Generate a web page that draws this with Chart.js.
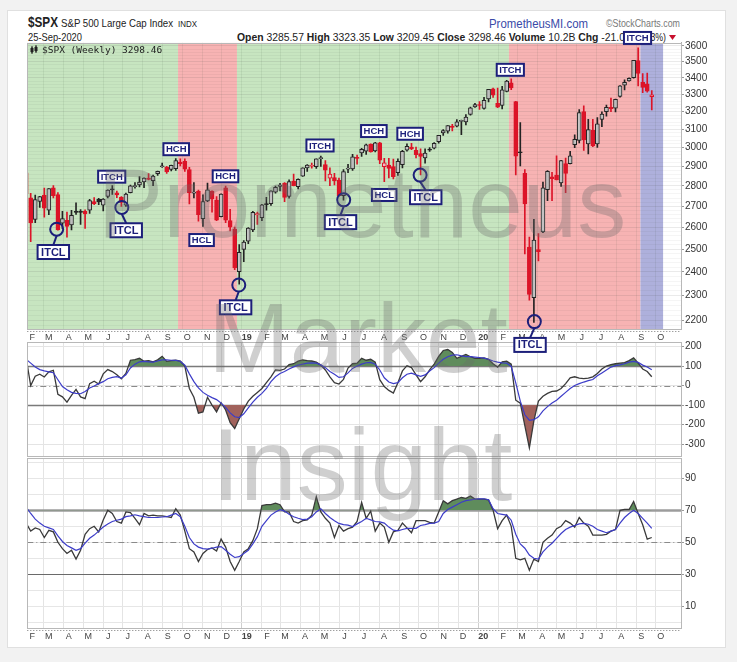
<!DOCTYPE html>
<html lang="en">
<head>
<meta charset="UTF-8">
<title>$SPX Weekly | Prometheus Market Insight</title>
<script src="https://cdn.jsdelivr.net/npm/chart.js"></script>
<style>
  body { margin: 0; background: #f2f2f2; font-family: 'Liberation Sans', Arial, sans-serif; }
  .page { position: relative; width: 737px; height: 662px; overflow: hidden; }
  .card { position: absolute; left: 7px; top: 10px; width: 719px; height: 638px; background: #fff; border: 1px solid #e0e0e0; box-sizing: border-box; }
  .layer { position: absolute; left: 0; }
  #head { top: 0; z-index: 1; }
  #rsiChart { top: 445px; z-index: 2; }
  #cciChart { top: 330px; z-index: 3; }
  #priceChart { top: 30px; z-index: 4; }
  #overlay { top: 0; z-index: 5; pointer-events: none; }
</style>
</head>
<body>
<div class="page">
  <div class="card"></div>

  <svg id="head" class="layer" width="737" height="60">
    <g font-family="'Liberation Sans Narrow','Liberation Sans',Arial,sans-serif" fill="#222">
      <text x="28" y="26.5" font-size="15" font-weight="bold" textLength="30" lengthAdjust="spacingAndGlyphs">$SPX</text>
      <text x="61" y="26.5" font-size="11.5" textLength="112" lengthAdjust="spacingAndGlyphs">S&amp;P 500 Large Cap Index</text>
      <text x="178" y="26.5" font-size="9.5" textLength="19" lengthAdjust="spacingAndGlyphs">INDX</text>
      <text x="28" y="41" font-size="11" textLength="54" lengthAdjust="spacingAndGlyphs">25-Sep-2020</text>
      <text x="237" y="41" font-size="11" textLength="388" lengthAdjust="spacingAndGlyphs"><tspan font-weight="bold">Open</tspan> 3285.57 <tspan font-weight="bold">High</tspan> 3323.35 <tspan font-weight="bold">Low</tspan> 3209.45 <tspan font-weight="bold">Close</tspan> 3298.46 <tspan font-weight="bold">Volume</tspan> 10.2B <tspan font-weight="bold">Chg</tspan> -21.0</text>
      <text x="625" y="41" font-size="11" textLength="41" lengthAdjust="spacingAndGlyphs">1 (-0.63%)</text>
      <text x="489" y="27.5" font-size="13" fill="#3a4aa8" textLength="99" lengthAdjust="spacingAndGlyphs">PrometheusMI.com</text>
      <text x="606" y="27" font-size="10.5" fill="#777" textLength="74" lengthAdjust="spacingAndGlyphs">©StockCharts.com</text>
    </g>
    <path d="M669 35 L676 35 L672.5 40 Z" fill="#c8102e"/>
  </svg>

  <canvas id="rsiChart" class="layer" width="737" height="205"></canvas>
  <canvas id="cciChart" class="layer" width="737" height="140"></canvas>
  <canvas id="priceChart" class="layer" width="737" height="330"></canvas>

  <svg id="overlay" class="layer" width="737" height="662">
    <g font-family="'Liberation Sans',Arial,sans-serif" fill="rgba(105,105,105,0.32)" text-anchor="middle">
      <text x="362" y="237" font-size="98">Prometheus</text>
      <text x="358" y="372" font-size="98">Market</text>
      <text x="362" y="500" font-size="102">Insight</text>
    </g>
    <path d="M32 46 v8 M31 48 h2 v4 h-2 z M36 45 v8 M35 47 h2 v4 h-2 z" stroke="#222" stroke-width="1" fill="#222"/>
    <text x="42" y="52.5" font-family="'DejaVu Sans Mono',monospace" font-size="9.5" fill="#222">$SPX (Weekly) 3298.46</text>
  </svg>
</div>

<script>
  // weekly candles, week 0 = week ending Fri 2-Feb-2018
  const firstWeek = '2018-02-02';
  const priorClose = 2873;

  const opens = [
    2867, 2741, 2637, 2723, 2754, 2681, 2790, 2757, 2619, 2633,
    2611, 2670, 2675, 2675, 2681, 2723, 2735, 2705, 2748, 2781,
    2766, 2743, 2705, 2766, 2797, 2805, 2821, 2840, 2827, 2862,
    2898, 2897, 2884, 2888, 2922, 2926, 2883, 2764, 2774, 2640,
    2726, 2774, 2730, 2650, 2791, 2631, 2591, 2401, 2499, 2536,
    2588, 2658, 2645, 2712, 2712, 2769, 2798, 2814, 2748, 2825,
    2796, 2849, 2892, 2901, 2899, 2941, 2909, 2840, 2842, 2830,
    2752, 2886, 2887, 2945, 2971, 2980, 3018, 2982, 3025, 2898,
    2907, 2899, 2867, 2909, 2986, 3002, 2985, 2967, 2944, 2990,
    2996, 3031, 3079, 3089, 3118, 3117, 3144, 3141, 3184, 3227,
    3240, 3218, 3273, 3333, 3247, 3236, 3318, 3369, 3258, 2974,
    2864, 2509, 2291, 2498, 2578, 2782, 2846, 2855, 2815, 2915,
    2914, 3016, 3039, 3200, 3019, 3094, 3019, 3155, 3200, 3224,
    3220, 3288, 3355, 3381, 3401, 3507, 3372, 3364, 3286
  ];
  const highs = [
    2873, 2763, 2754, 2748, 2789, 2787, 2802, 2767, 2675, 2672,
    2680, 2717, 2684, 2683, 2733, 2742, 2739, 2737, 2780, 2802,
    2775, 2747, 2764, 2805, 2817, 2848, 2841, 2863, 2855, 2876,
    2917, 2900, 2907, 2941, 2940, 2940, 2895, 2817, 2779, 2756,
    2815, 2776, 2747, 2761, 2800, 2685, 2601, 2520, 2538, 2598,
    2675, 2672, 2709, 2744, 2776, 2799, 2813, 2817, 2831, 2860,
    2836, 2893, 2910, 2918, 2940, 2954, 2931, 2892, 2864, 2840,
    2884, 2911, 2964, 2959, 2996, 3018, 3020, 3028, 3028, 2943,
    2943, 2939, 2940, 2985, 3020, 3022, 3002, 2993, 2993, 3000,
    3027, 3067, 3098, 3120, 3128, 3154, 3151, 3183, 3226, 3248,
    3258, 3283, 3330, 3338, 3338, 3348, 3385, 3394, 3260, 3137,
    2883, 2554, 2637, 2571, 2819, 2879, 2869, 2955, 2932, 2944,
    2980, 3069, 3212, 3233, 3156, 3155, 3166, 3198, 3238, 3279,
    3272, 3353, 3388, 3400, 3509, 3588, 3426, 3429, 3323
  ];
  const lows = [
    2760, 2533, 2622, 2694, 2647, 2659, 2741, 2586, 2593, 2554,
    2587, 2660, 2613, 2595, 2665, 2707, 2707, 2677, 2741, 2758,
    2742, 2699, 2699, 2765, 2789, 2795, 2792, 2830, 2802, 2853,
    2895, 2864, 2876, 2879, 2903, 2874, 2711, 2740, 2628, 2604,
    2722, 2671, 2631, 2649, 2622, 2583, 2409, 2347, 2444, 2525,
    2580, 2613, 2631, 2681, 2704, 2764, 2775, 2722, 2739, 2800,
    2785, 2848, 2874, 2891, 2889, 2900, 2825, 2801, 2805, 2751,
    2729, 2868, 2879, 2912, 2952, 2963, 2975, 2976, 2914, 2822,
    2841, 2835, 2853, 2892, 2980, 2989, 2945, 2856, 2917, 2979,
    2993, 3023, 3066, 3078, 3091, 3113, 3070, 3124, 3180, 3224,
    3212, 3214, 3256, 3282, 3222, 3215, 3315, 3328, 2856, 2902,
    2479, 2281, 2192, 2447, 2575, 2727, 2727, 2830, 2798, 2767,
    2913, 2999, 3025, 2984, 2966, 3005, 3000, 3115, 3173, 3200,
    3198, 3284, 3327, 3379, 3397, 3350, 3310, 3313, 3209
  ];
  const closes = [
    2762, 2620, 2732, 2747, 2691, 2787, 2752, 2588, 2641, 2604,
    2656, 2670, 2670, 2663, 2728, 2713, 2721, 2735, 2779, 2780,
    2755, 2718, 2760, 2801, 2802, 2819, 2840, 2833, 2850, 2875,
    2902, 2872, 2905, 2930, 2914, 2886, 2767, 2768, 2659, 2723,
    2781, 2736, 2633, 2760, 2633, 2600, 2417, 2486, 2532, 2596,
    2671, 2665, 2707, 2708, 2776, 2793, 2804, 2743, 2822, 2801,
    2834, 2893, 2907, 2905, 2940, 2946, 2881, 2860, 2826, 2752,
    2873, 2887, 2950, 2942, 2990, 3014, 2977, 3026, 2932, 2919,
    2889, 2847, 2926, 2979, 3007, 2992, 2962, 2952, 2970, 2986,
    3023, 3067, 3093, 3120, 3110, 3141, 3146, 3169, 3221, 3240,
    3235, 3265, 3330, 3295, 3226, 3328, 3380, 3338, 2954, 2972,
    2711, 2305, 2541, 2489, 2790, 2875, 2837, 2831, 2930, 2864,
    2955, 3044, 3194, 3041, 3098, 3009, 3130, 3185, 3225, 3216,
    3271, 3351, 3373, 3397, 3508, 3427, 3341, 3319, 3298
  ];

  // CCI panel
  const cciLine = [
    140, 0, 48, 58, 44, 70, 78, -45, -58, -85,
    -50, -20, -58, -67, 10, 22, 8, 60, 82, 72,
    55, 35, 62, 130, 133, 140, 125, 128, 122, 132,
    150, 124, 128, 130, 125, 100, -15, -60, -142, -135,
    -60, -100, -135, -88, -125, -190, -220, -170, -120, -80,
    -55, -35, -15, 15, 45, 80, 78, 85, 108, 112,
    125, 132, 128, 126, 120, 105, 80, 45, 15, 8,
    32, 90, 112, 115, 140, 130, 135, 120, 30, -5,
    -25, -38, 15, 75, 102, 92, 55, 20, 45, 80,
    110, 150, 180, 185, 170, 140, 150, 160, 148, 140,
    140, 142, 135, 112, 95, 122, 125, 110, -75, -90,
    -205, -320, -180, -80, -55, -40, -30, -28, -15, 10,
    40, 45, 38, 36, 38, 45, 62, 85, 100, 108,
    112, 115, 118, 128, 142, 115, 85, 72, 45
  ];
  const cciSignal = [
    135, 115, 95, 82, 75, 70, 66, 30, -5, -22,
    -35, -40, -42, -30, -12, -2, 10, 20, 35, 42,
    46, 38, 55, 90, 110, 122, 124, 122, 120, 126,
    132, 132, 130, 129, 125, 105, 60, 20, -12, -35,
    -50, -62, -72, -90, -112, -140, -160, -164, -145, -115,
    -85, -60, -40, -15, 20, 45, 62, 72, 85, 96,
    105, 110, 115, 116, 115, 106, 92, 72, 58, 42,
    45, 65, 88, 100, 110, 117, 119, 110, 80, 40,
    18, 10, 15, 40, 58, 64, 55, 47, 55, 75,
    92, 115, 135, 148, 156, 158, 152, 149, 148, 146,
    144, 141, 135, 126, 120, 116, 115, 98, 14, -80,
    -150, -178, -175, -160, -130, -108, -90, -75, -55, -35,
    -15, 0, 10, 18, 25, 31, 50, 65, 80, 95,
    102, 106, 112, 120, 124, 119, 105, 95, 81
  ];

  // RSI panel
  const rsiLine = [
    62, 57, 59, 58, 53, 57.5, 56.5, 50, 46, 43,
    45, 39.5, 45, 55, 58.5, 60, 56.5, 64, 70, 68,
    63, 62, 69, 68.5, 65, 61, 68, 66.5, 67, 66.5,
    66.5, 66, 65.5, 71, 67, 57, 46, 44, 38, 43,
    45.5, 46.5, 44.5, 52, 47, 38, 32.5, 38, 44, 46,
    51, 58.5, 73, 73.5, 73.5, 74.5, 73.5, 69, 69, 63,
    62, 63.5, 64, 67, 78.5, 69, 65, 62, 53, 60.5,
    57, 58.5, 59.5, 63, 75, 65, 69.5, 57, 62, 59.5,
    50, 56.5, 57.5, 62, 59, 56, 63.5, 63.5, 63.5, 62.5,
    62, 69, 76, 74, 76, 77, 78, 77.5, 79, 77,
    77, 77, 76.5, 70, 58.5, 63.5, 67, 60, 40, 39,
    40, 32.5, 39.5, 38, 50, 52.5, 54.5, 58.5, 60, 63.5,
    62, 59.5, 65.5, 62, 60, 54.5, 54.5, 54.5, 55, 57,
    58, 70, 70.5, 70.5, 75.5, 68, 61, 52, 53
  ];
  const rsiSignal = [
    72, 68, 64.5, 62, 60, 59, 58, 54, 50.5, 48,
    46.5, 45, 46, 49.5, 52.5, 54.5, 57, 59.5, 61.5, 63,
    63.8, 64.5, 66, 66.5, 67.2, 66.5, 66, 65.5, 65.5, 65.5,
    65.8, 66, 67, 68, 66, 60, 53, 49, 47, 46,
    45.7, 46.3, 47, 47.3, 45, 42.5, 40.5, 41, 43, 45,
    49, 53.5, 60, 63.5, 67, 69, 70.4, 69.5, 67.5, 66,
    65, 64.2, 64.5, 66, 69, 71, 68, 65.5, 63.5, 61.8,
    61, 60.7, 59.8, 61.5, 63, 65, 64, 63, 62.8, 62,
    59.5, 57.6, 57.2, 58, 58.7, 58.7, 58.7, 60.5, 61, 61.8,
    62, 63, 68, 70.5, 72, 73.5, 75, 76, 76.5, 77,
    77.2, 77.2, 76.6, 71, 68, 67.5, 67, 63.8, 55, 49,
    46.3, 42, 40, 39.5, 44, 47, 49.4, 52.5, 55.5, 58,
    59.5, 60.5, 61.5, 61.8, 61.3, 60, 58, 57, 56, 57,
    58, 62, 65.5, 68, 70, 68, 65, 62, 58.7
  ];

  // month axis
  const monthStarts = [
    '2018-02-01', '2018-03-01', '2018-04-01', '2018-05-01', '2018-06-01', '2018-07-01',
    '2018-08-01', '2018-09-01', '2018-10-01', '2018-11-01', '2018-12-01',
    '2019-01-01', '2019-02-01', '2019-03-01', '2019-04-01', '2019-05-01', '2019-06-01',
    '2019-07-01', '2019-08-01', '2019-09-01', '2019-10-01', '2019-11-01', '2019-12-01',
    '2020-01-01', '2020-02-01', '2020-03-01', '2020-04-01', '2020-05-01', '2020-06-01',
    '2020-07-01', '2020-08-01', '2020-09-01', '2020-10-01'
  ];
  const monthLabels = [
    'F', 'M', 'A', 'M', 'J', 'J', 'A', 'S', 'O', 'N', 'D',
    '19', 'F', 'M', 'A', 'M', 'J', 'J', 'A', 'S', 'O', 'N', 'D',
    '20', 'F', 'M', 'A', 'M', 'J', 'J', 'A', 'S', 'O'
  ];

  const priceLabels = [2200, 2300, 2400, 2500, 2600, 2700, 2800, 2900, 3000, 3100, 3200, 3300, 3400, 3500, 3600];
  const cciTicks = [-300, -200, -100, 0, 100, 200];
  const rsiTicks = [10, 30, 50, 70, 90];

  // cycle zones (in weeks)
  const zoneStart = [0.25, 33.5, 46.5, 106.5, 135.5];
  const zoneEnd = [33.5, 46.5, 106.5, 135.5, 140.5];
  const zoneKind = ['up', 'down', 'up', 'down', 'open'];

  // cycle tags
  const tagText = ['ITCL', 'ITCH', 'ITCL', 'HCH', 'HCL', 'HCH', 'ITCL', 'ITCH', 'ITCL', 'HCH', 'HCL', 'HCH', 'ITCL', 'ITCH', 'ITCL', 'ITCH'];
  const tagWeek = [5.99, 18.87, 22.07, 33.1, 38.7, 43.97, 46.2, 64.82, 69.34, 76.7, 78.98, 84.7, 88.14, 106.8, 111.15, 134.86];
  const tagPrice = [2487, 2847, 2586, 2991, 2541, 2849, 2252, 3011, 2624, 3090, 2755, 3075, 2744, 3449, 2105, 3652];
  const tagRing = [0, -1, 1, -1, -1, -1, 2, -1, 3, -1, -1, -1, 4, -1, 5, -1];
  const ringWeek = [6.73, 21.1, 46.9, 70.05, 86.9, 112.1];
  const ringPrice = [2591, 2694, 2344, 2731, 2855, 2195];

  const X_MIN = 0.25, X_MAX = 144.45;
  const NAVY = '#1c1f7a';
  const UP = '#232323', DOWN = '#dc1428';
  const zoneColors = { up: '#c7e5c0', down: '#f7b3b3', open: '#aeb0dc' };

  Chart.defaults.font.family = "'Liberation Sans', Arial, sans-serif";
  Chart.defaults.animation = false;

  const DAY = 86400000;
  const monthWeeks = monthStarts.map(d => Math.max(X_MIN, (Date.parse(d) - Date.parse(firstWeek)) / DAY / 7));
  const isYear = i => /^\d/.test(monthLabels[i] || '');
  const pts = arr => arr.map((v, j) => ({ x: j, y: v }));

  const candleColor = closes.map((c, j) => c >= (j ? closes[j - 1] : priorClose) ? UP : DOWN);
  const bodyFill = closes.map((c, j) => c > opens[j] ? 'rgba(255,255,255,0.7)' : candleColor[j]);

  function weekAxis(showLabels, gridColor) {
    return {
      type: 'linear', min: X_MIN, max: X_MAX, offset: false,
      afterBuildTicks: s => { s.ticks = monthWeeks.map(v => ({ value: v })); },
      afterFit: s => { s.height = showLabels ? 12 : 0; },
      border: { display: false },
      grid: { color: gridColor, drawTicks: false, offset: false },
      ticks: {
        display: showLabels, autoSkip: false, maxRotation: 0, labelOffset: 5, padding: 3,
        color: '#444',
        font: c => ({ size: 9, weight: isYear(c.index) ? 'bold' : 'normal' }),
        callback: (v, i) => monthLabels[i]
      }
    };
  }

  const zonesPlugin = {
    id: 'zones',
    beforeDraw(chart) {
      const { ctx, chartArea: a, scales: { x } } = chart;
      ctx.save();
      ctx.beginPath();
      ctx.rect(a.left, a.top, a.width, a.height);
      ctx.clip();
      zoneStart.forEach((s, k) => {
        const x0 = x.getPixelForValue(s), x1 = x.getPixelForValue(zoneEnd[k]);
        ctx.fillStyle = zoneColors[zoneKind[k]];
        ctx.fillRect(x0, a.top, x1 - x0, a.height);
      });
      ctx.restore();
    }
  };

  const framePlugin = {
    id: 'frame',
    afterDatasetsDraw(chart, args, opts) {
      const { ctx, chartArea: a } = chart;
      ctx.save();
      ctx.strokeStyle = '#b8b8b8';
      ctx.lineWidth = 1;
      ctx.strokeRect(Math.round(a.left) + 0.5, Math.round(a.top) + 0.5, Math.round(a.width), Math.round(a.height));
      if (opts.dotted) {
        ctx.setLineDash([1, 2]);
        ctx.strokeStyle = '#777';
        const y = Math.round(a.bottom) + 2.5;
        ctx.beginPath();
        ctx.moveTo(a.left, y);
        ctx.lineTo(a.right, y);
        ctx.stroke();
      }
      ctx.restore();
    }
  };

  const levelsPlugin = {
    id: 'levels',
    beforeDatasetsDraw(chart, args, opts) {
      const { ctx, chartArea: a, scales: { y } } = chart;
      (opts.lines || []).forEach(l => {
        const py = Math.round(y.getPixelForValue(l.value)) + 0.5;
        ctx.save();
        ctx.strokeStyle = l.color;
        ctx.lineWidth = l.width;
        ctx.setLineDash(l.dash || []);
        ctx.beginPath();
        ctx.moveTo(a.left, py);
        ctx.lineTo(a.right, py);
        ctx.stroke();
        ctx.restore();
      });
    }
  };

  const tagsPlugin = {
    id: 'tags',
    afterDatasetsDraw(chart) {
      const { ctx, scales: { x, y } } = chart;
      ctx.save();
      tagText.forEach((t, k) => {
        const big = t === 'ITCL';
        ctx.font = 'bold ' + (big ? 11 : 9.5) + "px 'Liberation Sans', Arial, sans-serif";
        const w = ctx.measureText(t).width + (big ? 7 : 5);
        const h = big ? 14 : 12;
        const cx = x.getPixelForValue(tagWeek[k]);
        const cy = y.getPixelForValue(tagPrice[k]);
        const r = tagRing[k];
        if (r >= 0) {
          ctx.strokeStyle = NAVY;
          ctx.lineWidth = 2;
          ctx.beginPath();
          ctx.moveTo(x.getPixelForValue(ringWeek[r]), y.getPixelForValue(ringPrice[r]) + 6.5);
          ctx.lineTo(cx, cy - h / 2);
          ctx.stroke();
        }
        ctx.fillStyle = '#fff';
        ctx.fillRect(cx - w / 2, cy - h / 2, w, h);
        ctx.strokeStyle = NAVY;
        ctx.lineWidth = 2;
        ctx.strokeRect(cx - w / 2, cy - h / 2, w, h);
        ctx.fillStyle = NAVY;
        ctx.textAlign = 'center';
        ctx.textBaseline = 'middle';
        ctx.fillText(t, cx, cy + 0.5);
      });
      ctx.restore();
    }
  };

  // price panel
  new Chart(document.getElementById('priceChart'), {
    type: 'bar',
    data: {
      datasets: [
        {
          type: 'scatter',
          data: ringWeek.map((w, k) => ({ x: w, y: ringPrice[k] })),
          pointRadius: 6.5,
          pointBorderWidth: 2,
          pointBorderColor: NAVY,
          pointBackgroundColor: 'rgba(0,0,0,0)',
          order: 0
        },
        {
          data: opens.map((o, j) => ({ x: j, y: [o, closes[j]] })),
          backgroundColor: bodyFill,
          borderColor: candleColor,
          borderWidth: 1,
          borderSkipped: false,
          barThickness: 4,
          minBarLength: 1,
          grouped: false,
          order: 1
        },
        {
          data: lows.map((l, j) => ({ x: j, y: [l, highs[j]] })),
          backgroundColor: candleColor,
          borderWidth: 0,
          barThickness: 1,
          grouped: false,
          order: 2
        }
      ]
    },
    options: {
      responsive: false,
      layout: { padding: { top: 12.7, left: 27.3, right: 0, bottom: 19 } },
      plugins: { legend: { display: false }, tooltip: { enabled: false }, frame: { dotted: true } },
      scales: {
        x: weekAxis(true, c => 'rgba(40,60,40,0.08)'),
        y: {
          type: 'logarithmic', position: 'right', min: 2166, max: 3621,
          afterBuildTicks: s => {
            const t = [];
            for (let v = 2180; v <= 3600; v += 20) t.push({ value: v });
            s.ticks = t;
          },
          afterFit: s => { s.width = 56; },
          border: { display: true, color: '#aaa' },
          grid: {
            color: c => c.tick && priceLabels.includes(c.tick.value) ? 'rgba(60,60,60,0.11)' : 'rgba(60,60,60,0.05)',
            tickColor: c => c.tick && priceLabels.includes(c.tick.value) ? '#999' : 'rgba(0,0,0,0)',
            tickLength: 3
          },
          ticks: {
            autoSkip: false, padding: 1, color: '#333', font: { size: 10 },
            callback: v => priceLabels.includes(v) ? String(v) : ''
          }
        }
      }
    },
    plugins: [zonesPlugin, framePlugin, tagsPlugin]
  });

  const lowerGrid = c => isYear(c.index) ? '#cfcfcf' : '#e4e4e4';
  const GREEN_FILL = '#5f8c5c', BROWN_FILL = '#a1625c';

  // CCI panel
  new Chart(document.getElementById('cciChart'), {
    type: 'line',
    data: {
      datasets: [
        {
          data: pts(cciLine), borderColor: 'rgba(0,0,0,0)', borderWidth: 0, pointRadius: 0,
          fill: { target: { value: -100 }, above: 'rgba(0,0,0,0)', below: BROWN_FILL }, order: 3
        },
        {
          data: pts(cciLine), borderColor: '#3a3a3a', borderWidth: 1.3, pointRadius: 0,
          fill: { target: { value: 100 }, above: GREEN_FILL, below: 'rgba(0,0,0,0)' }, order: 2
        },
        { data: pts(cciSignal), borderColor: '#3c3cc8', borderWidth: 1.2, pointRadius: 0, fill: false, order: 1 }
      ]
    },
    options: {
      responsive: false,
      layout: { padding: { top: 12.3, left: 27.3, right: 0, bottom: 13.3 } },
      plugins: {
        legend: { display: false }, tooltip: { enabled: false },
        levels: {
          lines: [
            { value: 100, color: '#7a7a7a', width: 1.5 },
            { value: -100, color: '#7a7a7a', width: 1.5 },
            { value: 0, color: '#8a8a8a', width: 1, dash: [6, 3, 1, 3] }
          ]
        }
      },
      scales: {
        x: weekAxis(false, lowerGrid),
        y: {
          type: 'linear', position: 'right', min: -365, max: 222,
          afterBuildTicks: s => { s.ticks = cciTicks.map(v => ({ value: v })); },
          afterFit: s => { s.width = 56; },
          border: { display: true, color: '#aaa' },
          grid: { color: '#e4e4e4', tickColor: '#999', tickLength: 3 },
          ticks: { padding: 1, color: '#333', font: { size: 10 }, callback: v => String(v) }
        }
      }
    },
    plugins: [levelsPlugin, framePlugin]
  });

  // RSI panel
  new Chart(document.getElementById('rsiChart'), {
    type: 'line',
    data: {
      datasets: [
        {
          data: pts(rsiLine), borderColor: '#3a3a3a', borderWidth: 1.3, pointRadius: 0,
          fill: { target: { value: 70 }, above: GREEN_FILL, below: 'rgba(0,0,0,0)' }, order: 2
        },
        { data: pts(rsiSignal), borderColor: '#3c3cc8', borderWidth: 1.2, pointRadius: 0, fill: false, order: 1 }
      ]
    },
    options: {
      responsive: false,
      layout: { padding: { top: 13, left: 27.3, right: 0, bottom: 10.3 } },
      plugins: {
        legend: { display: false }, tooltip: { enabled: false }, frame: { dotted: true },
        levels: {
          lines: [
            { value: 70, color: '#9c9c9c', width: 2.5 },
            { value: 30, color: '#6a6a6a', width: 1.2 },
            { value: 50, color: '#8a8a8a', width: 1, dash: [6, 3, 1, 3] }
          ]
        }
      },
      scales: {
        x: weekAxis(true, lowerGrid),
        y: {
          type: 'linear', position: 'right', min: -3.4, max: 102.7,
          afterBuildTicks: s => {
            const t = [];
            for (let v = 0; v <= 100; v += 10) t.push({ value: v });
            s.ticks = t;
          },
          afterFit: s => { s.width = 56; },
          border: { display: true, color: '#aaa' },
          grid: {
            color: '#e6e6e6',
            tickColor: c => c.tick && rsiTicks.includes(c.tick.value) ? '#999' : 'rgba(0,0,0,0)',
            tickLength: 3
          },
          ticks: { autoSkip: false, padding: 1, color: '#333', font: { size: 10 }, callback: v => rsiTicks.includes(v) ? String(v) : '' }
        }
      }
    },
    plugins: [levelsPlugin, framePlugin]
  });
</script>
</body>
</html>
